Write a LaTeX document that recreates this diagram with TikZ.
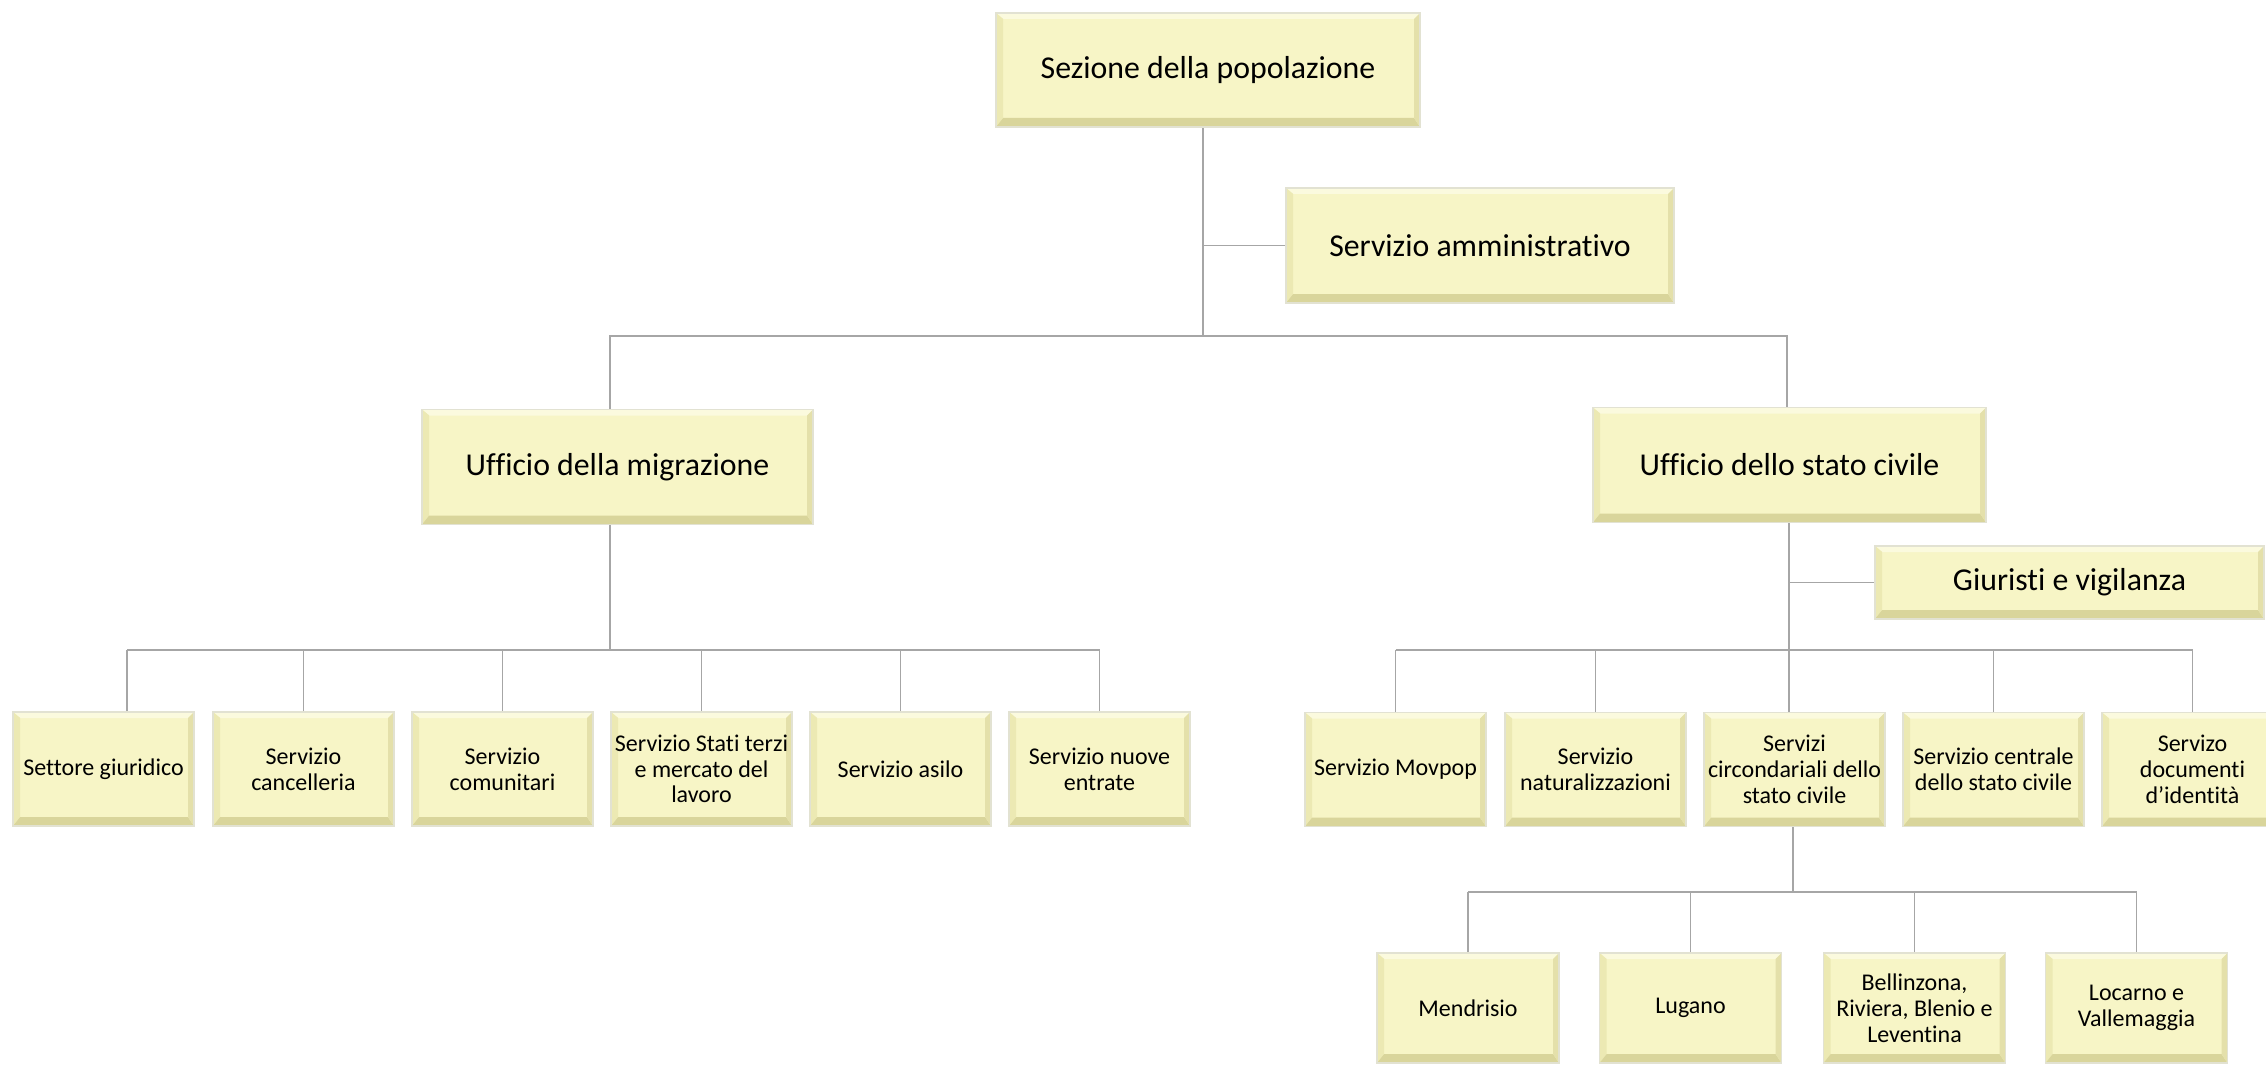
\documentclass[tikz,border=0pt]{standalone}
\usepackage{fontspec}
\setmainfont[Ligatures={NoCommon,NoRare}]{Carlito}
\usetikzlibrary{calc}
\definecolor{face}{HTML}{F7F5C6}
\definecolor{bvtop}{HTML}{FBFADE}
\definecolor{bvleft}{HTML}{ECE9B3}
\definecolor{bvbot}{HTML}{D9D59B}
\definecolor{bvright}{HTML}{E4E0AA}
\definecolor{rim}{HTML}{E2E2D2}
\definecolor{conncol}{HTML}{A6A6A6}
\tikzset{
  bev/.style={rectangle, fill=face, draw=rim, line width=0.9pt, inner sep=0.5pt,
    align=center, text=black,
    path picture={
      \coordinate (pNW) at (path picture bounding box.north west);
      \coordinate (pNE) at (path picture bounding box.north east);
      \coordinate (pSE) at (path picture bounding box.south east);
      \coordinate (pSW) at (path picture bounding box.south west);
      \coordinate (iNW) at ($(pNW)+(3.6pt,-3pt)$);
      \coordinate (iNE) at ($(pNE)+(-3pt,-3pt)$);
      \coordinate (iSE) at ($(pSE)+(-3pt,4.5pt)$);
      \coordinate (iSW) at ($(pSW)+(3.6pt,4.5pt)$);
      \fill[bvtop] (pNW) -- (pNE) -- (iNE) -- (iNW) -- cycle;
      \fill[bvleft] (pNW) -- (iNW) -- (iSW) -- (pSW) -- cycle;
      \fill[bvbot] (pSW) -- (iSW) -- (iSE) -- (pSE) -- cycle;
      \fill[bvright] (pNE) -- (pSE) -- (iSE) -- (iNE) -- cycle;
    }},
  bigbox/.style={bev, font=\fontsize{15.9pt}{18pt}\selectfont},
  smallbox/.style={bev, font=\fontsize{12pt}{12.9pt}\selectfont,
    minimum width=90.5pt, minimum height=57pt},
  lowbox/.style={bev, font=\fontsize{12pt}{12.9pt}\selectfont,
    minimum width=91pt, minimum height=55pt},
  conn/.style={draw=conncol, line width=0.8pt}
}
\begin{document}
\begin{tikzpicture}[x=0.5pt, y=-0.5pt]
\useasboundingbox (0,0) rectangle (2266,1065);

% top level
\node[bigbox, minimum width=212pt, minimum height=57pt] (top) at (1208,70) {Sezione della popolazione};
\node[bigbox, minimum width=194pt, minimum height=57.5pt] (amm) at (1480,245.5) {Servizio amministrativo};
\node[bigbox, minimum width=195.5pt, minimum height=57.5pt] (mig) at (617.5,467) {Ufficio della migrazione};
\node[bigbox, minimum width=196.5pt, minimum height=57.5pt] (sc) at (1789.5,465) {Ufficio dello stato civile};
\node[bigbox, minimum width=194.5pt, minimum height=36.5pt] (giur) at (2069.5,582.5) {Giuristi e vigilanza};

% migration row
\node[smallbox] (c1) at (103.5,769) {Settore giuridico};
\node[smallbox] (c2) at (303.5,769) {Servizio\\cancelleria};
\node[smallbox] (c3) at (502.5,769) {Servizio\\comunitari};
\node[smallbox] (c4) at (701.5,769) {Servizio Stati terzi\\e mercato del\\lavoro};
\node[smallbox] (c5) at (900.5,769) {Servizio asilo};
\node[smallbox] (c6) at (1099.5,769) {Servizio nuove\\entrate};

% civil status row
\node[smallbox] (d1) at (1395.5,769.5) {Servizio Movpop};
\node[smallbox] (d2) at (1595.5,769.5) {Servizio\\naturalizzazioni};
\node[smallbox] (d3) at (1794.5,769.5) {Servizi\\circondariali dello\\stato civile};
\node[smallbox] (d4) at (1993.5,769.5) {Servizio centrale\\dello stato civile};
\node[smallbox] (d5) at (2192.5,769.5) {Servizo\\documenti\\d’identità};

% districts row
\node[lowbox] (e1) at (1468,1008) {Mendrisio};
\node[lowbox] (e2) at (1690.5,1008) {Lugano};
\node[lowbox] (e3) at (1914.5,1008) {Bellinzona,\\Riviera, Blenio e\\Leventina};
\node[lowbox] (e4) at (2136.5,1008) {Locarno e\\Vallemaggia};

% bus coordinates
\coordinate (vx) at (1203,336);
\coordinate (mx) at (610,336);
\coordinate (sx) at (1787,336);
\coordinate (mb) at (610,650);
\coordinate (c1x) at (127,650);
\coordinate (sb) at (1789,650);
\coordinate (eb) at (1793,892);

% connectors level 1
\draw[conn] (top.south -| vx) -- (vx);
\draw[conn] (amm.west) -- (amm.west -| vx);
\draw[conn] (mig.north -| mx) -- (mx) -- (sx) -- (sc.north -| sx);

% migration children
\draw[conn] (mig.south -| mb) -- (mb);
\draw[conn] (c1x) -- (c6.north |- mb);
\draw[conn] (c1x) -- (c1.north -| c1x);
\foreach \n in {c2,c3,c4,c5,c6} \draw[conn] (\n.north) -- (\n.north |- mb);

% civil status children
\draw[conn] (sc.south -| sb) -- (d3.north -| sb);
\draw[conn] (giur.west) -- (giur.west -| sb);
\draw[conn] (d1.north |- sb) -- (d5.north |- sb);
\foreach \n in {d1,d2,d4,d5} \draw[conn] (\n.north) -- (\n.north |- sb);

% districts
\draw[conn] (d3.south -| eb) -- (eb);
\draw[conn] (e1.north |- eb) -- (e4.north |- eb);
\foreach \n in {e1,e2,e3,e4} \draw[conn] (\n.north) -- (\n.north |- eb);
\end{tikzpicture}
\end{document}
